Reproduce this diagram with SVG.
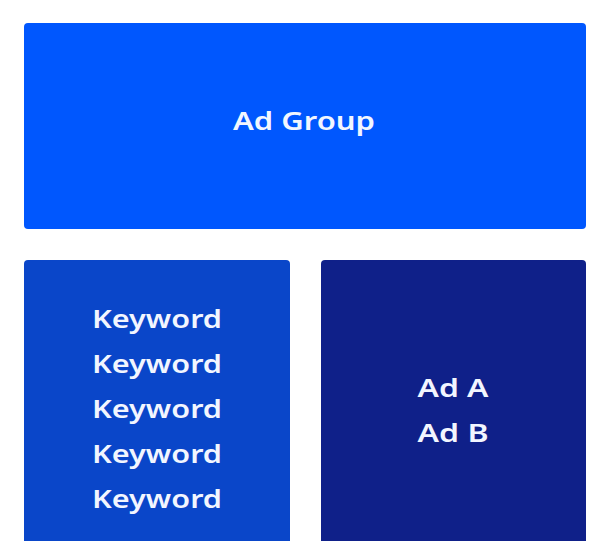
<svg xmlns="http://www.w3.org/2000/svg" width="608" height="541" viewBox="0 0 608 541">
<style>
.t{font-family:"Noto Sans","Open Sans",sans-serif;font-weight:600;fill:#F2F6FF;text-anchor:middle;}
.k{font-size:26px;}
</style>
<rect width="608" height="541" fill="#FFFFFF"/>
<g id="ad-group">
<rect x="24" y="23" width="562" height="206" rx="4" fill="#0057FE"/>
<text class="t" x="304" y="130" font-size="25" textLength="142" lengthAdjust="spacingAndGlyphs">Ad Group</text>
</g>
<g id="keywords">
<rect x="24" y="260" width="266" height="290" rx="4" fill="#0A46C9"/>
<text class="t k" x="157" y="328" textLength="130" lengthAdjust="spacingAndGlyphs">Keyword</text>
<text class="t k" x="157" y="373" textLength="130" lengthAdjust="spacingAndGlyphs">Keyword</text>
<text class="t k" x="157" y="418" textLength="130" lengthAdjust="spacingAndGlyphs">Keyword</text>
<text class="t k" x="157" y="463" textLength="130" lengthAdjust="spacingAndGlyphs">Keyword</text>
<text class="t k" x="157" y="508" textLength="130" lengthAdjust="spacingAndGlyphs">Keyword</text>
</g>
<g id="ads">
<rect x="321" y="260" width="265" height="290" rx="4" fill="#0F2089"/>
<text class="t k" x="453" y="397" textLength="71" lengthAdjust="spacingAndGlyphs">Ad A</text>
<text class="t k" x="453" y="442" textLength="71" lengthAdjust="spacingAndGlyphs">Ad B</text>
</g>
<g id="connectors"></g>
</svg>
